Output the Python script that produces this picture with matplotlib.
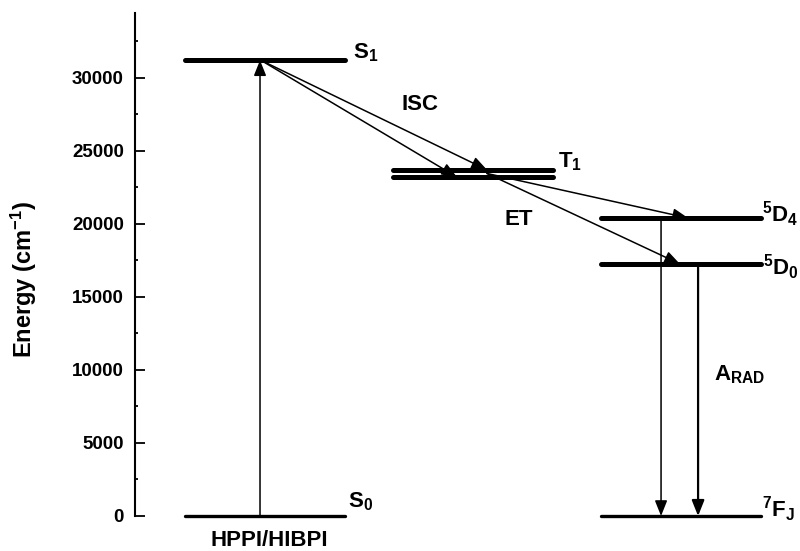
import matplotlib
matplotlib.use("Agg")
import matplotlib.pyplot as plt
from matplotlib.ticker import MultipleLocator

plt.rcParams['font.family'] = ['Liberation Sans', 'DejaVu Sans']
plt.rcParams['font.weight'] = 'bold'
plt.rcParams['mathtext.fontset'] = 'custom'
plt.rcParams['mathtext.rm'] = 'Liberation Sans:bold'
plt.rcParams['mathtext.it'] = 'Liberation Sans:bold'
plt.rcParams['mathtext.bf'] = 'Liberation Sans:bold'

# energy levels (cm-1)
ligand_labels = ['S$_0$', 'S$_1$']
ligand_energy = [0, 31200]
triplet_label = 'T$_1$'
triplet_energy = [23700, 23200]
ln_labels = ['$^5$D$_4$', '$^5$D$_0$', '$^7$F$_J$']
ln_energy = [20400, 17250, 0]
yticks = [0, 5000, 10000, 15000, 20000, 25000, 30000]

col_ligand, col_triplet, col_ln = 1.0, 2.0, 3.0
half = 0.385

fig = plt.figure(figsize=(8, 5.51), dpi=100)
ax = fig.add_axes([135 / 800, 35 / 551, 665 / 800, 502.5 / 551])

thick = 3.6
thin = 2.4

def level(x, e, lw):
    ax.plot([x - half, x + half], [e, e], color='black', lw=lw,
            solid_capstyle='round', clip_on=False)

level(col_ligand, ligand_energy[0], thin)
level(col_ligand, ligand_energy[1], thick)
for e in triplet_energy:
    level(col_triplet, e, thick)
level(col_ln, ln_energy[0], thick)
level(col_ln, ln_energy[1], thick)
level(col_ln, ln_energy[2], thin)

def arrow(x0, y0, x1, y1, lw=1.1, ms=17):
    ax.annotate('', xy=(x1, y1), xytext=(x0, y0),
                arrowprops=dict(arrowstyle='-|>,head_length=0.55,head_width=0.22',
                                color='black', lw=lw,
                                mutation_scale=ms, shrinkA=0, shrinkB=0),
                annotation_clip=False)

# absorption
arrow(0.976, ligand_energy[0], 0.976, ligand_energy[1])
# S1 -> T1 (ISC)
arrow(0.98, ligand_energy[1], 2.067, triplet_energy[0])
arrow(0.98, ligand_energy[1], 1.923, triplet_energy[1])
# T1 -> Ln (ET)
t_mid = sum(triplet_energy) / 2
arrow(2.067, t_mid, 3.034, ln_energy[0])
arrow(2.067, t_mid, 2.995, ln_energy[1])
# radiative decay
arrow(2.904, ln_energy[0], 2.904, ln_energy[2], lw=1.1)
arrow(3.082, ln_energy[1], 3.082, ln_energy[2], lw=1.6)

fs = 16

def tag(text, x, e, dx, dy):
    ax.annotate(text, xy=(x + half, e), xytext=(dx, dy),
                textcoords='offset points', ha='left', va='baseline',
                fontsize=fs, annotation_clip=False)

tag(ligand_labels[0], col_ligand, ligand_energy[0], 2, 6.5)
tag(ligand_labels[1], col_ligand, ligand_energy[1], 5.5, 1.5)
tag(triplet_label, col_triplet, triplet_energy[0], 3.5, 2)
tag(ln_labels[0], col_ln, ln_energy[0], 1, -2.5)
tag(ln_labels[1], col_ln, ln_energy[1], 1.5, -8)
tag(ln_labels[2], col_ln, ln_energy[2], 0.5, -1)

ax.text(1.745, 28150, 'ISC', fontsize=fs, ha='center', va='center')
ax.text(2.221, 20270, 'ET', fontsize=fs, ha='center', va='center')
ax.text(3.159, 9700, 'A$_{RAD}$', fontsize=fs, ha='left', va='center')
ax.text(1.02, -1650, 'HPPI/HIBPI', fontsize=fs, ha='center', va='center',
        clip_on=False)

ax.set_xlim(0.375, 3.572)
ax.set_ylim(0, 34400)
ax.set_yticks(yticks)
ax.yaxis.set_minor_locator(MultipleLocator(2500))
ax.set_xticks([])
for s in ['top', 'right', 'bottom']:
    ax.spines[s].set_visible(False)
ax.spines['left'].set_linewidth(1.5)
ax.tick_params(axis='y', which='major', direction='in', length=7, width=1.3,
               labelsize=13.5, pad=8)
ax.tick_params(axis='y', which='minor', direction='in', length=2, width=1.3)

ax.set_ylabel('Energy (cm$^{-1}$)', fontsize=17, fontweight='bold')
ax.yaxis.set_label_coords(-0.145, 0.47)

fig.savefig('out.png', dpi=100)
